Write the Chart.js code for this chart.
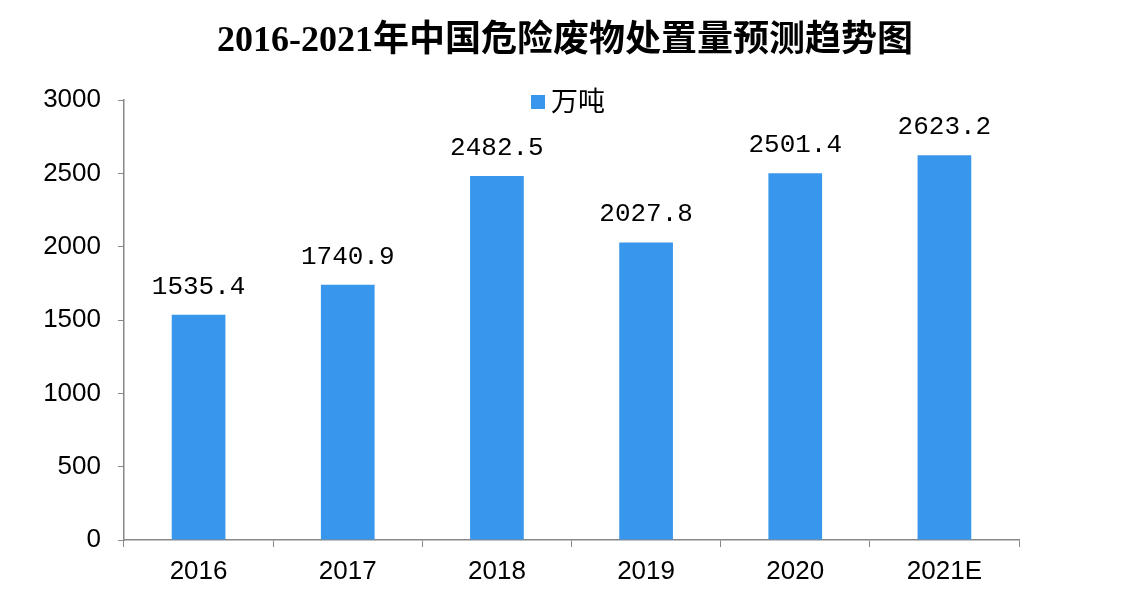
<!DOCTYPE html>
<html lang="zh">
<head>
    <meta charset="UTF-8">
    <title>2016-2021年中国危险废物处置量预测趋势图</title>
    <style>
        body { margin: 0; background: #fff; }
        #wrap { width: 1124px; height: 592px; }
    </style>
</head>
<body>
    <div id="wrap">
        <canvas id="myChart"></canvas>
    </div>

    <script src="https://cdn.jsdelivr.net/npm/chart.js"></script>

    <script>
        // 数据
        const years = ['2016', '2017', '2018', '2019', '2020', '2021E'];
        const disposal = [1535.4, 1740.9, 2482.5, 2027.8, 2501.4, 2623.2];
        const seriesName = '万吨';
        const chartTitle = '2016-2021年中国危险废物处置量预测趋势图';
        const yMin = 0;
        const yMax = 3000;
        const yStep = 500;

        const barColor = '#3896ec';
        const axisColor = '#888888';

        // 柱子上方的数值
        const valueLabels = {
            id: 'valueLabels',
            afterDatasetsDraw(chart) {
                const ctx = chart.ctx;
                const meta = chart.getDatasetMeta(0);
                ctx.save();
                ctx.font = '26px "Liberation Mono", "DejaVu Sans Mono", monospace';
                ctx.fillStyle = '#000';
                ctx.textAlign = 'center';
                ctx.textBaseline = 'middle';
                meta.data.forEach((bar, i) => {
                    ctx.fillText(disposal[i].toFixed(1), bar.x, bar.y - 28);
                });
                ctx.restore();
            }
        };

        // 标题（整张图居中）和图例（坐标区上方）
        const titleAndLegend = {
            id: 'titleAndLegend',
            afterDraw(chart) {
                const ctx = chart.ctx;
                ctx.save();
                ctx.fillStyle = '#000';
                ctx.font = 'bold 36px "Liberation Serif", "Noto Sans CJK SC", serif';
                ctx.textAlign = 'center';
                ctx.textBaseline = 'middle';
                ctx.fillText(chartTitle, chart.width / 2 + 3, 42);

                ctx.fillStyle = barColor;
                ctx.fillRect(531, 95, 14, 14);
                ctx.fillStyle = '#000';
                ctx.font = '27px "Noto Sans CJK SC", sans-serif';
                ctx.textAlign = 'left';
                ctx.fillText(seriesName, 551, 101);
                ctx.restore();
            }
        };

        const ctx = document.getElementById('myChart');

        new Chart(ctx, {
            type: 'bar',
            data: {
                labels: years,
                datasets: [{
                    label: seriesName,
                    data: disposal,
                    backgroundColor: barColor,
                    barPercentage: 0.36,
                    categoryPercentage: 1
                }]
            },
            options: {
                responsive: true,
                maintainAspectRatio: false,
                animation: false,
                layout: {
                    padding: { left: 0, right: 105, top: 100, bottom: 0 }
                },
                plugins: {
                    legend: { display: false },
                    tooltip: { enabled: false },
                    title: { display: false }
                },
                scales: {
                    x: {
                        grid: { drawOnChartArea: false, offset: true, tickLength: 7, color: axisColor },
                        border: { color: axisColor, width: 1.5 },
                        ticks: {
                            color: '#000',
                            padding: 9,
                            font: { family: '"Liberation Sans", Arial, sans-serif', size: 26 }
                        },
                        afterFit(scale) { scale.height = 52; }
                    },
                    y: {
                        min: yMin,
                        max: yMax,
                        grid: { drawOnChartArea: false, tickLength: 6, color: axisColor },
                        border: { color: axisColor, width: 1.5 },
                        ticks: {
                            stepSize: yStep,
                            color: '#000',
                            padding: 17,
                            font: { family: '"Liberation Sans", Arial, sans-serif', size: 26 },
                            callback: v => String(v)
                        },
                        afterFit(scale) { scale.width = 124; }
                    }
                }
            },
            plugins: [valueLabels, titleAndLegend]
        });
    </script>
</body>
</html>
